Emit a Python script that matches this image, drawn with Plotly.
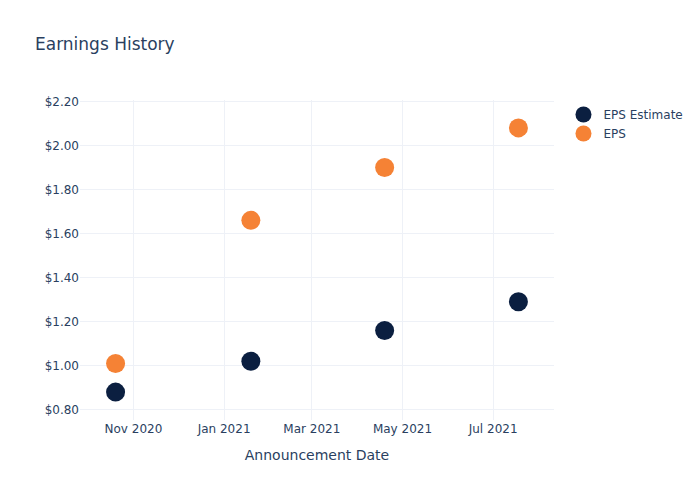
import plotly.graph_objects as go

dates = ['2020-10-20', '2021-01-19', '2021-04-19', '2021-07-18']
eps_estimate = [0.88, 1.02, 1.16, 1.29]
eps_actual = [1.01, 1.66, 1.90, 2.08]

fig = go.Figure()
fig.add_trace(
    go.Scatter(
        x=dates, y=eps_estimate, name='EPS Estimate', mode='markers',
        marker=dict(color='#0b1f40', size=19)
    )
)
fig.add_trace(
    go.Scatter(
        x=dates, y=eps_actual, name='EPS', mode='markers',
        marker=dict(color='#f58235', size=19)
    )
)
# page body adds an 8px offset, so the figure is sized and shifted to compensate
fig.update_layout(
    template='plotly_white',
    width=692, height=492,
    margin=dict(l=72, r=80, t=92, b=80),
    font=dict(family='DejaVu Sans'),
    title=dict(text='Earnings History', x=27 / 692, y=1 - 36 / 492, yanchor='middle'),
    xaxis=dict(title=dict(text='Announcement Date'), dtick='M2', tickformat='%b %Y', gridcolor='#eef1f7'),
    yaxis=dict(tickprefix='$', tickformat='.2f', dtick=0.2, gridcolor='#eef1f7'),
)

fig.write_html("out.html")
